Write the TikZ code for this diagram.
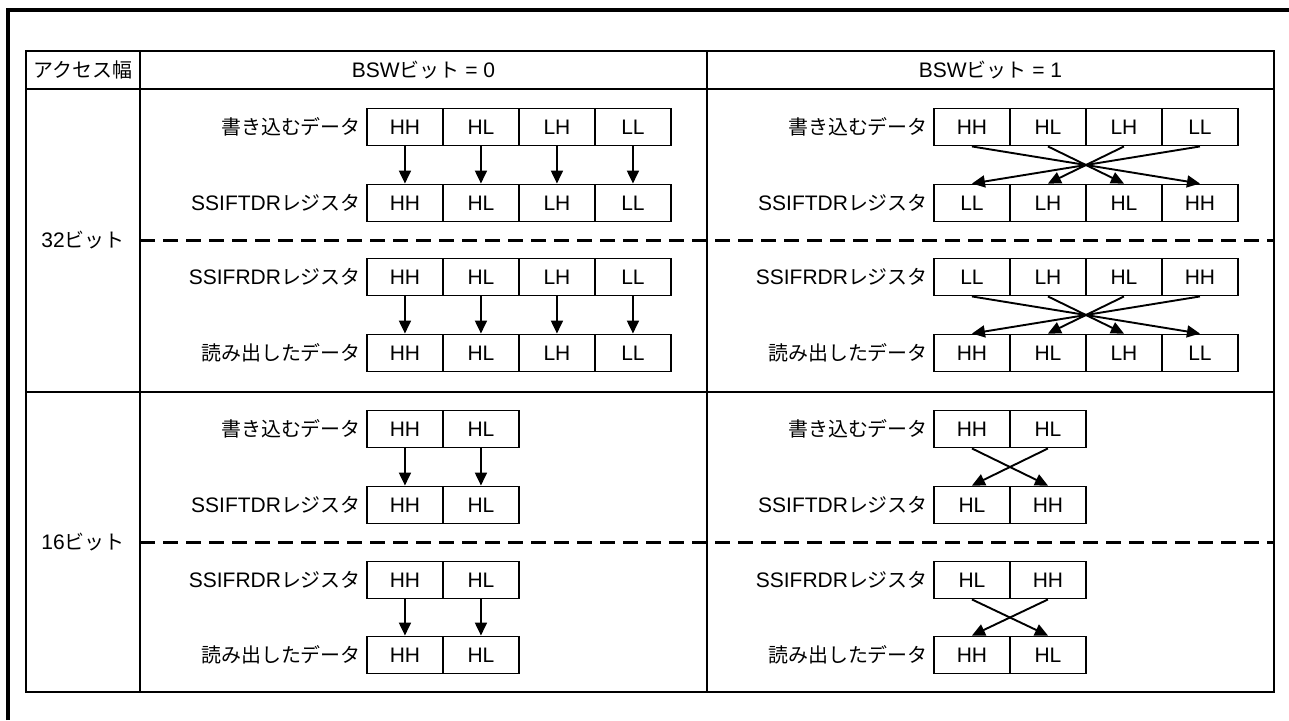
\documentclass[tikz,border=0pt]{standalone}
\usepackage{fontspec}
\setmainfont{Liberation Sans}
\newfontfamily\jp[Scale=0.95]{Noto Sans CJK JP}
\usetikzlibrary{arrows.meta}

% one register row: name, left x, centre y, label, cell texts
\newcommand\regrow[5]{%
  \foreach \t [count=\i] in {#5}
    \node[cell] (#1-\i) at ({#2+(\i-1)*76}, #3) {\t};
  \node[lbl] (#1-lab) at (#1-1.west) {#4};
}

\begin{document}
\begin{tikzpicture}[x=1pt, y=-1pt,
  every node/.style={font=\fontsize{21}{24}\selectfont},
  cell/.style={draw, line width=1.9pt, anchor=west, minimum width=76pt, minimum height=37pt, inner sep=0pt},
  lbl/.style={anchor=east, inner sep=5pt},
  arr/.style={line width=1.9pt, -{Triangle[width=12pt,length=13pt]}},
  rule/.style={line width=1.9pt},
  sep/.style={line width=3pt, dash pattern=on 15pt off 8pt}]
	\useasboundingbox (0,0) rectangle (1289,720);
	% outer frame
	\draw[line width=3.5pt] (8,720) -- (8,10) -- (1289,10);
	% table
	\draw[rule] (26,51) rectangle (1274,692);
	\draw[rule] (26,89) -- (1274,89);
	\draw[rule] (26,392) -- (1274,392);
	\draw[rule] (140,51) -- (140,692);
	\draw[rule] (707,51) -- (707,692);
	\draw[sep] (140,240) -- (1274,240);
	\draw[sep] (140,542) -- (1274,542);
	% headings
	\node (acc) at (83,70) {{\jp アクセス幅}};
	\node (bsw0) at (423.5,70) {BSW{\jp ビット} = 0};
	\node (bsw1) at (990.5,70) {BSW{\jp ビット} = 1};
	\node (w32) at (83,240) {32{\jp ビット}};
	\node (w16) at (83,542) {16{\jp ビット}};

	% 32 bit, BSW = 0
	\regrow{La}{366}{127}{{\jp 書き込むデータ}}{HH,HL,LH,LL}
	\regrow{Lb}{366}{203}{SSIFTDR{\jp レジスタ}}{HH,HL,LH,LL}
	\regrow{Lc}{366}{277}{SSIFRDR{\jp レジスタ}}{HH,HL,LH,LL}
	\regrow{Ld}{366}{353}{{\jp 読み出したデータ}}{HH,HL,LH,LL}
	% 32 bit, BSW = 1
	\regrow{Ra}{933}{127}{{\jp 書き込むデータ}}{HH,HL,LH,LL}
	\regrow{Rb}{933}{203}{SSIFTDR{\jp レジスタ}}{LL,LH,HL,HH}
	\regrow{Rc}{933}{277}{SSIFRDR{\jp レジスタ}}{LL,LH,HL,HH}
	\regrow{Rd}{933}{353}{{\jp 読み出したデータ}}{HH,HL,LH,LL}
	% 16 bit, BSW = 0
	\regrow{Le}{366}{429}{{\jp 書き込むデータ}}{HH,HL}
	\regrow{Lf}{366}{505}{SSIFTDR{\jp レジスタ}}{HH,HL}
	\regrow{Lg}{366}{580}{SSIFRDR{\jp レジスタ}}{HH,HL}
	\regrow{Lh}{366}{655}{{\jp 読み出したデータ}}{HH,HL}
	% 16 bit, BSW = 1
	\regrow{Re}{933}{429}{{\jp 書き込むデータ}}{HH,HL}
	\regrow{Rf}{933}{505}{SSIFTDR{\jp レジスタ}}{HL,HH}
	\regrow{Rg}{933}{580}{SSIFRDR{\jp レジスタ}}{HL,HH}
	\regrow{Rh}{933}{655}{{\jp 読み出したデータ}}{HH,HL}

	% transfers
	\foreach \i [evaluate=\i as \j using int(5-\i)] in {1,...,4} {
		\draw[arr] (La-\i.south) -- (Lb-\i.north);
		\draw[arr] (Lc-\i.south) -- (Ld-\i.north);
		\draw[arr] (Ra-\i.south) -- (Rb-\j.north);
		\draw[arr] (Rc-\i.south) -- (Rd-\j.north);
	}
	\foreach \i [evaluate=\i as \j using int(3-\i)] in {1,2} {
		\draw[arr] (Le-\i.south) -- (Lf-\i.north);
		\draw[arr] (Lg-\i.south) -- (Lh-\i.north);
		\draw[arr] (Re-\i.south) -- (Rf-\j.north);
		\draw[arr] (Rg-\i.south) -- (Rh-\j.north);
	}
\end{tikzpicture}
\end{document}
